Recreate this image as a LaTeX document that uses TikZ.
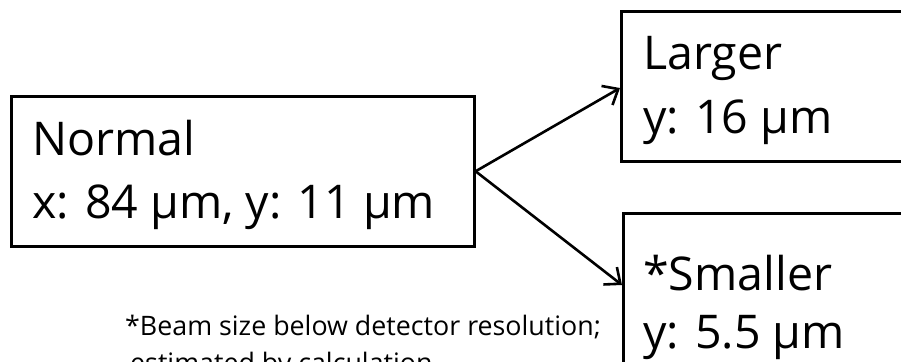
\documentclass[tikz,border=0pt]{standalone}
\usepackage{fontspec}
\setmainfont{Open Sans}
\usetikzlibrary{arrows.meta}
\tikzset{
  box/.style={draw=black, line width=2.6pt, inner sep=0pt, anchor=north west},
  bigtext/.style={anchor=base west, inner sep=0pt, font=\fontsize{46.5}{56}\selectfont},
  foottext/.style={anchor=base west, inner sep=0pt, font=\fontsize{26.8}{32}\selectfont},
  conn/.style={line width=2.6pt, -{Straight Barb[length=13pt,width=22pt,line width=2.6pt]}}
}
\begin{document}
\begin{tikzpicture}[x=1pt,y=-1pt]
\useasboundingbox (0,0) rectangle (901,361);
\begin{scope}
\clip (0,0) rectangle (901,361);
\node[box, minimum width=463pt, minimum height=150pt] (normal) at (10,95) {};
\node[box, minimum width=300pt, minimum height=150pt] (larger) at (620,10) {};
\node[box, minimum width=300pt, minimum height=160pt] (smaller) at (622,212) {};
\node[foottext] (f2) at (130,372) {estimated by calculation};
\end{scope}
\node[bigtext] (t1) at (32,155) {Normal};
\node[bigtext] (t2) at (32,218) {x: 84 µm, y: 11 µm};
\node[bigtext] (t3) at (643,70) {Larger};
\node[bigtext] (t4) at (643,133) {y: 16 µm};
\node[bigtext] (t5) at (643,290) {*Smaller};
\node[bigtext] (t6) at (643,348) {y: 5.5 µm};
\node[foottext] (f1) at (125,335) {*Beam size below detector resolution;};
\coordinate (upend) at (larger.north west |- 0,88);
\coordinate (lowend) at (smaller.north west |- 0,285);
\draw[conn] (normal.east) -- (upend);
\draw[conn] (normal.east) -- (lowend);
\end{tikzpicture}
\end{document}
